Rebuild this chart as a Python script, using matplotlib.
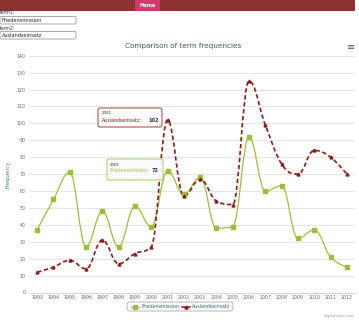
import numpy as np
import matplotlib.pyplot as plt
from matplotlib.path import Path
from matplotlib.patches import PathPatch, FancyBboxPatch, Rectangle

years = [str(y) for y in range(1993, 2013)]
friedensmission = [37, 55, 71, 27, 48, 27, 51, 39, 72, 58, 68, 38, 39, 92, 60, 63, 32, 37, 21, 15]
auslandseinsatz = [12, 15, 19, 14, 31, 17, 23, 27, 102, 57, 67, 54, 52, 125, 99, 76, 70, 84, 80, 70]
yticks = list(range(0, 150, 10))

green = '#9bbf3c'
red = '#8b1a1a'
W, H = 359, 322


def fx(x):
    return x / W


def fy(y):
    return 1 - y / H


def spline_path(xs, ys, smoothing=1.5):
    # highcharts-like spline: bezier control points per point
    n = len(xs)
    lc = [(xs[i], ys[i]) for i in range(n)]
    rc = [(xs[i], ys[i]) for i in range(n)]
    d = smoothing + 1
    for i in range(1, n - 1):
        px, py = xs[i], ys[i]
        lx, ly = xs[i - 1], ys[i - 1]
        nx, ny = xs[i + 1], ys[i + 1]
        lcx = (smoothing * px + lx) / d
        lcy = (smoothing * py + ly) / d
        rcx = (smoothing * px + nx) / d
        rcy = (smoothing * py + ny) / d
        if rcx != lcx:
            corr = ((rcy - lcy) * (rcx - px)) / (rcx - lcx) + py - rcy
            lcy += corr
            rcy += corr
        if lcy > ly and lcy > py:
            lcy = max(ly, py)
            rcy = 2 * py - lcy
        elif lcy < ly and lcy < py:
            lcy = min(ly, py)
            rcy = 2 * py - lcy
        if rcy > ny and rcy > py:
            rcy = max(ny, py)
            lcy = 2 * py - rcy
        elif rcy < ny and rcy < py:
            rcy = min(ny, py)
            lcy = 2 * py - rcy
        lc[i] = (lcx, lcy)
        rc[i] = (rcx, rcy)
    verts = [(xs[0], ys[0])]
    codes = [Path.MOVETO]
    for i in range(1, n):
        verts += [rc[i - 1], lc[i], (xs[i], ys[i])]
        codes += [Path.CURVE4] * 3
    return Path(verts, codes)


fig = plt.figure(figsize=(W / 100, H / 100), dpi=100)
fig.patch.set_facecolor('white')

# page header
fig.add_artist(Rectangle((0, fy(11)), fx(355), 11 / H, transform=fig.transFigure,
                         facecolor='#8c3232', edgecolor='none'))
fig.add_artist(Rectangle((fx(135), fy(11)), 25 / W, 11 / H, transform=fig.transFigure,
                         facecolor='#d2396b', edgecolor='none'))
fig.text(fx(147.5), fy(5.5), 'Home', color='white', fontsize=3.6, fontweight='bold',
         ha='center', va='center')

# input fields
for lab, val, y0 in [('term1:', 'Friedensmission', 13), ('term2:', 'Auslandseinsatz', 28)]:
    fig.text(fx(0), fy(y0), lab, fontsize=3.3, color='#333333', va='center')
    fig.add_artist(FancyBboxPatch((fx(0), fy(y0 + 11)), 76 / W, 7.5 / H,
                                  boxstyle='round,pad=0,rounding_size=0.004',
                                  transform=fig.transFigure, facecolor='white',
                                  edgecolor='#999999', lw=0.6))
    fig.text(fx(1.5), fy(y0 + 7.2), val, fontsize=3.6, color='#222222', va='center')

ax = fig.add_axes([fx(29), 29.5 / H, (355 - 29) / W, (292.5 - 55.7) / H])
x = np.arange(len(years))

ax.add_patch(PathPatch(spline_path(x, friedensmission), facecolor='none',
                       edgecolor=green, lw=0.9, zorder=3))
ax.add_patch(PathPatch(spline_path(x, auslandseinsatz), facecolor='none',
                       edgecolor=red, lw=1.2, ls=(0, (2.6, 1.6)), zorder=4))
ax.plot(x, friedensmission, ls='none', marker='s', ms=2.4, color=green, zorder=5)
ax.plot(x, auslandseinsatz, ls='none', marker='^', ms=2.1, color=red, zorder=5)

ax.set_xlim(-0.5, len(years) - 0.5)
ax.set_ylim(0, 140)
ax.set_yticks(yticks)
ax.set_xticks(x)
ax.set_xticklabels(years)
ax.tick_params(axis='both', labelsize=3.4, colors='#666666', length=0, pad=2.5)
ax.tick_params(axis='x', pad=2)
ax.grid(axis='y', color='#e0e0e0', lw=0.6)
ax.set_axisbelow(True)
for s in ['top', 'right', 'left']:
    ax.spines[s].set_visible(False)
ax.spines['bottom'].set_color('#c0d0e0')
ax.spines['bottom'].set_linewidth(0.6)
ax.set_ylabel('Frequency', fontsize=3.8, color='#4d759e', labelpad=4)

fig.text(fx(183), fy(46), 'Comparison of term frequencies', fontsize=5.2,
         color='#3e576f', ha='center', va='center')
fig.text(fx(351), fy(47), '\u2261', fontsize=7, color='#555555', ha='center', va='center')

# tooltips
fig.add_artist(FancyBboxPatch((fx(98), fy(127)), 64 / W, 19 / H,
                              boxstyle='round,pad=0,rounding_size=0.006',
                              transform=fig.transFigure, facecolor='#fbfbfb',
                              edgecolor=red, lw=0.6, alpha=0.95, zorder=10))
fig.text(fx(102), fy(113), '2001', fontsize=2.8, color='#333333', va='center', zorder=11)
fig.text(fx(102), fy(121), 'Auslandseinsatz:', fontsize=3.4, color=red, va='center', zorder=11)
fig.text(fx(148), fy(121), '102', fontsize=3.6, color='#333333', fontweight='bold',
         va='center', zorder=11)
fig.add_artist(FancyBboxPatch((fx(107), fy(180)), 56 / W, 21 / H,
                              boxstyle='round,pad=0,rounding_size=0.006',
                              transform=fig.transFigure, facecolor='#fbfbfb',
                              edgecolor=green, lw=0.6, alpha=0.95, zorder=10))
fig.text(fx(110), fy(165), '2001', fontsize=2.8, color='#333333', va='center', zorder=11)
fig.text(fx(110), fy(171), 'Friedensmission:', fontsize=3.4, color=green, va='center', zorder=11)
fig.text(fx(152), fy(171), '72', fontsize=3.6, color='#333333', fontweight='bold',
         va='center', zorder=11)

# legend
fig.add_artist(FancyBboxPatch((fx(127), fy(311)), 106 / W, 9 / H,
                              boxstyle='round,pad=0,rounding_size=0.008',
                              transform=fig.transFigure, facecolor='white',
                              edgecolor='#999999', lw=0.5))
fig.add_artist(plt.Line2D([fx(131), fx(139)], [fy(306.5)] * 2, transform=fig.transFigure,
                          color=green, lw=0.9))
fig.add_artist(plt.Line2D([fx(135)], [fy(306.5)], transform=fig.transFigure, marker='s',
                          ms=2.2, color=green))
fig.text(fx(141), fy(306.5), 'Friedensmission', fontsize=3.4, color='#3e576f', va='center')
fig.add_artist(plt.Line2D([fx(182), fx(190)], [fy(306.5)] * 2, transform=fig.transFigure,
                          color=red, lw=1.1))
fig.add_artist(plt.Line2D([fx(186)], [fy(306.5)], transform=fig.transFigure, marker='^',
                          ms=2.2, color=red))
fig.text(fx(192), fy(306.5), 'Auslandseinsatz', fontsize=3.4, color='#3e576f', va='center')

fig.text(fx(354), fy(315.5), 'Highcharts.com', fontsize=2.8, color='#909090',
         ha='right', va='center')

fig.savefig('out.png', dpi=100)
